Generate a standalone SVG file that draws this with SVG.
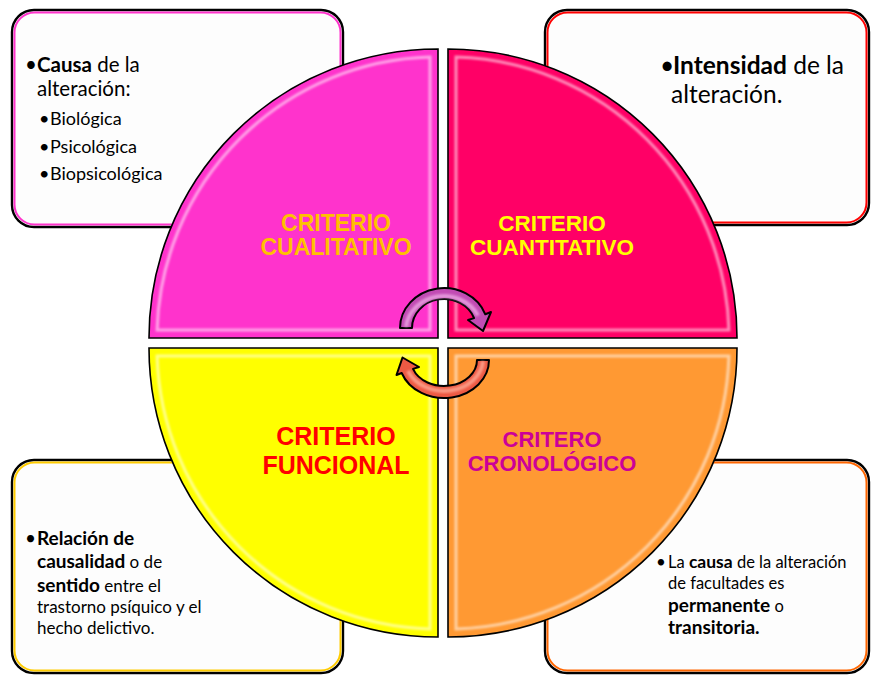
<svg xmlns="http://www.w3.org/2000/svg" width="871" height="677" viewBox="0 0 871 677">
<style>
.box{fill:#fdfdfd;stroke:#000;stroke-width:2.4}
.t{font-family:Lato,"Open Sans","Noto Sans",sans-serif;fill:#000}
.b{font-weight:bold}
.q{stroke:#000;stroke-width:1.6}
.hl{fill:none;stroke:#fff;stroke-width:3;opacity:.55;filter:url(#blur)}
.lbl{font-family:"Liberation Sans",Arial,sans-serif;font-weight:bold;text-anchor:middle}
.arrow{stroke:#000;stroke-width:2;stroke-linejoin:round}
.mid{fill:none;stroke-width:4;opacity:.7;filter:url(#blur)}
</style>
<defs>
<filter id="blur" x="-10%" y="-10%" width="120%" height="120%"><feGaussianBlur stdDeviation="1.2"/></filter>
</defs>
<rect width="871" height="677" fill="#fff"/>

<g id="box-cualitativo">
<rect class="box" x="12" y="10" width="331" height="217" rx="22"/>
<rect x="14.5" y="12.5" width="326" height="212" rx="20" fill="none" stroke="#ff33cc" stroke-width="2"/>
<text class="t" x="25" y="72" font-size="20.5">•</text>
<text class="t" x="37" y="72" font-size="20.5"><tspan class="b">Causa</tspan> de la</text>
<text class="t" x="37" y="96" font-size="20.5">alteración:</text>
<text class="t" x="39" y="125" font-size="18">•</text>
<text class="t" x="50" y="125" font-size="18">Biológica</text>
<text class="t" x="39" y="153" font-size="18">•</text>
<text class="t" x="50" y="153" font-size="18">Psicológica</text>
<text class="t" x="39" y="180" font-size="18">•</text>
<text class="t" x="50" y="180" font-size="18">Biopsicológica</text>
</g>

<g id="box-cuantitativo">
<rect class="box" x="545" y="10" width="324" height="215" rx="22"/>
<rect x="547.5" y="12.5" width="319" height="210" rx="20" fill="none" stroke="#ff0000" stroke-width="2"/>
<text class="t" x="660" y="74" font-size="24.5">•</text>
<text class="t" x="673" y="74" font-size="24.5"><tspan class="b">Intensidad</tspan> de la</text>
<text class="t" x="671" y="103" font-size="24.5">alteración.</text>
</g>

<g id="box-funcional">
<rect class="box" x="12" y="460" width="331" height="213" rx="22"/>
<rect x="14.5" y="462.5" width="326" height="208" rx="20" fill="none" stroke="#ffcc00" stroke-width="2"/>
<text class="t" x="25" y="545" font-size="19">•</text>
<text class="t b" x="37" y="545" font-size="19">Relación de</text>
<text class="t" x="37" y="568" font-size="17"><tspan class="b" font-size="19">causalidad</tspan> o de</text>
<text class="t" x="37" y="592" font-size="17"><tspan class="b" font-size="19">sentido</tspan> entre el</text>
<text class="t" x="37" y="613" font-size="17">trastorno psíquico y el</text>
<text class="t" x="37" y="634" font-size="17">hecho delictivo.</text>
</g>

<g id="box-cronologico">
<rect class="box" x="545" y="460" width="324" height="213" rx="22"/>
<rect x="547.5" y="462.5" width="319" height="208" rx="20" fill="none" stroke="#ff6600" stroke-width="2"/>
<text class="t" x="656" y="568" font-size="17">•</text>
<text class="t" x="668" y="568" font-size="16.5">La <tspan class="b" font-size="17.5">causa</tspan> de la alteración</text>
<text class="t" x="668" y="589" font-size="16.5">de facultades es</text>
<text class="t" x="668" y="612" font-size="16.5"><tspan class="b" font-size="19">permanente</tspan> o</text>
<text class="t b" x="668" y="634" font-size="19">transitoria.</text>
</g>

<g id="criterio-cualitativo">
<path class="q" fill="#ff33cc" d="M438,338 L149,338 A289 289 0 0 1 438,49 Z"/>
<path class="hl" d="M430,330 L157.1,330 A281 281 0 0 1 430,57.1 Z"/>
<text class="lbl" x="336" y="231" font-size="23" fill="#ffc000">CRITERIO</text>
<text class="lbl" x="336" y="255" font-size="23" fill="#ffc000">CUALITATIVO</text>
</g>

<g id="criterio-cuantitativo">
<path class="q" fill="#ff0066" d="M448,338 L737,338 A289 289 0 0 0 448,49 Z"/>
<path class="hl" d="M456,330 L728.9,330 A281 281 0 0 0 456,57.1 Z"/>
<text class="lbl" x="552" y="231" font-size="22.5" fill="#ffff00">CRITERIO</text>
<text class="lbl" x="552" y="255" font-size="22.5" fill="#ffff00">CUANTITATIVO</text>
</g>

<g id="criterio-funcional">
<path class="q" fill="#ffff00" d="M438,348 L149,348 A289 289 0 0 0 438,637 Z"/>
<path class="hl" d="M430,356 L157.1,356 A281 281 0 0 0 430,628.9 Z"/>
<text class="lbl" x="336" y="445" font-size="25" fill="#ff0000">CRITERIO</text>
<text class="lbl" x="336" y="474" font-size="25" fill="#ff0000">FUNCIONAL</text>
</g>

<g id="criterio-cronologico">
<path class="q" fill="#ff9933" d="M448,348 L737,348 A289 289 0 0 1 448,637 Z"/>
<path class="hl" d="M456,356 L728.9,356 A281 281 0 0 1 456,628.9 Z"/>
<text class="lbl" x="552" y="447" font-size="22" fill="#cc0099">CRITERO</text>
<text class="lbl" x="552" y="471" font-size="22" fill="#cc0099">CRONOLÓGICO</text>
</g>

<g id="connectors">
<path class="arrow" fill="#c24cb4" d="M400,328 A44 40 0 0 1 485.3,314.3 L491,312 L483,331 L468,320 L474.1,318.1 A32 29 0 0 0 412,328 Z"/>
<path class="mid" stroke="#f2b6ea" d="M406,327 A38 34.5 0 0 1 478,315.5"/>
<path class="arrow" fill="#ee5a44" d="M489,360 A45 38 0 0 1 401.7,373 L396.5,375 L402.5,357.5 L419,367 L413,368.9 A33 26 0 0 0 477,360 Z"/>
<path class="mid" stroke="#ffb4a0" d="M483,361 A39 32 0 0 1 408,371"/>
</g>
</svg>
